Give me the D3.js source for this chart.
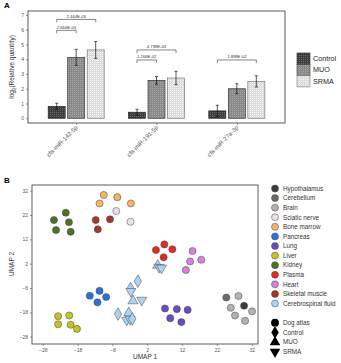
<!DOCTYPE html>
<html>
<head>
<meta charset="utf-8">
<script src="https://cdn.jsdelivr.net/npm/d3@7"></script>
<style>
  body { margin: 0; background: #fff; }
  svg { font-family: "Liberation Sans", Arial, sans-serif; }
</style>
</head>
<body>
<div id="chart"></div>
<script>
// ---- panel A data ----
const mirnas = ["cfa-miR-142-5p", "cfa-miR-191-5p", "cfa-miR-27a-3p"];
const groups = ["Control", "MUO", "SRMA"];
const meanControl = [0.80, 0.41, 0.50];
const meanMUO     = [4.13, 2.57, 2.00];
const meanSRMA    = [4.63, 2.73, 2.50];
const errControl  = [0.22, 0.20, 0.38];
const errMUO      = [0.54, 0.26, 0.34];
const errSRMA     = [0.57, 0.45, 0.38];
const yTicksA = [0, 1, 2, 3, 4, 5, 6, 7];
// bracket: mirna index, compared group, height, p-value
const sigMirna = [0, 0, 1, 1, 2];
const sigGroup = ["SRMA", "MUO", "SRMA", "MUO", "SRMA"];
const sigY     = [6.70, 5.96, 4.63, 3.95, 3.95];
const sigText  = ["2.444E-03", "2.666E-03", "4.798E-03", "1.266E-02", "1.898E-02"];

// ---- panel B data ----
const tissues = ["Hypothalamus", "Cerebellum", "Brain", "Sciatic nerve", "Bone marrow",
  "Pancreas", "Lung", "Liver", "Kidney", "Plasma", "Heart", "Skeletal muscle", "Cerebrospinal fluid"];
const tissueColors = ["#3b3b3b", "#6a6a6a", "#b3b3b3", "#ebe0ea", "#f2b566",
  "#2b72d6", "#6b4ac6", "#c3c324", "#4e7126", "#e12a20", "#d682d6", "#a6362b", "#aad4ef"];
const sources = ["Dog atlas", "Control", "MUO", "SRMA"];
const umapTicks = [-28, -18, -8, 2, 12, 22, 32];
// [tissue, source, UMAP1, UMAP2]
const umapPoints = [
  ["Kidney", "Dog atlas", -24.8, 19.9], ["Kidney", "Dog atlas", -21.4, 22.9], ["Kidney", "Dog atlas", -20.5, 19.0],
  ["Kidney", "Dog atlas", -24.2, 15.8], ["Kidney", "Dog atlas", -20.0, 15.1],
  ["Skeletal muscle", "Dog atlas", -12.8, 19.9], ["Skeletal muscle", "Dog atlas", -8.7, 20.2], ["Skeletal muscle", "Dog atlas", -12.2, 16.1],
  ["Bone marrow", "Dog atlas", -10.5, 30.2], ["Bone marrow", "Dog atlas", -6.6, 29.3], ["Bone marrow", "Dog atlas", -11.7, 26.7],
  ["Bone marrow", "Dog atlas", -2.7, 26.7],
  ["Sciatic nerve", "Dog atlas", -6.9, 23.6], ["Sciatic nerve", "Dog atlas", -2.8, 19.2],
  ["Plasma", "Dog atlas", 6.9, 9.9], ["Plasma", "Dog atlas", 4.5, 7.6], ["Plasma", "Dog atlas", 9.2, 7.9], ["Plasma", "Dog atlas", 6.7, 4.6],
  ["Heart", "Dog atlas", 15.0, 7.2], ["Heart", "Dog atlas", 17.5, 3.6], ["Heart", "Dog atlas", 14.3, 2.9], ["Heart", "Dog atlas", 13.1, -0.6],
  ["Pancreas", "Dog atlas", -11.7, -9.2], ["Pancreas", "Dog atlas", -14.5, -11.2], ["Pancreas", "Dog atlas", -9.8, -11.7], ["Pancreas", "Dog atlas", -12.3, -13.9],
  ["Lung", "Dog atlas", 7.1, -16.4], ["Lung", "Dog atlas", 10.5, -16.7], ["Lung", "Dog atlas", 13.6, -17.0],
  ["Lung", "Dog atlas", 8.6, -20.4], ["Lung", "Dog atlas", 11.8, -22.0],
  ["Liver", "Dog atlas", -23.6, -19.6], ["Liver", "Dog atlas", -20.4, -19.3], ["Liver", "Dog atlas", -23.6, -22.9],
  ["Liver", "Dog atlas", -20.0, -23.1], ["Liver", "Dog atlas", -18.2, -24.8],
  ["Cerebellum", "Dog atlas", 24.7, -11.9], ["Brain", "Dog atlas", 28.2, -11.3], ["Brain", "Dog atlas", 26.0, -16.1],
  ["Hypothalamus", "Dog atlas", 29.8, -15.3], ["Brain", "Dog atlas", 27.2, -19.3], ["Brain", "Dog atlas", 30.1, -21.5],
  ["Brain", "Dog atlas", 32.1, -17.6],
  ["Cerebrospinal fluid", "MUO", 5.0, 1.3], ["Cerebrospinal fluid", "SRMA", 5.4, 0.5], ["Cerebrospinal fluid", "SRMA", 6.1, 0.2],
  ["Cerebrospinal fluid", "Control", -0.7, -5.2], ["Cerebrospinal fluid", "Control", -2.8, -8.2], ["Cerebrospinal fluid", "SRMA", -2.7, -9.4],
  ["Cerebrospinal fluid", "MUO", -2.1, -13.3], ["Cerebrospinal fluid", "SRMA", 0.4, -13.0],
  ["Cerebrospinal fluid", "Control", -6.4, -18.7], ["Cerebrospinal fluid", "MUO", -3.3, -18.2],
  ["Cerebrospinal fluid", "SRMA", -3.9, -21.2], ["Cerebrospinal fluid", "SRMA", -2.9, -20.9], ["Cerebrospinal fluid", "Control", -2.3, -20.7]
];

const W = 341, H = 363;
const svg = d3.select("#chart").append("svg").attr("width", W).attr("height", H);

// patterns for the textured bars
const defs = svg.append("defs");
function addPattern(id, bg, dot) {
  const p = defs.append("pattern").attr("id", id).attr("patternUnits", "userSpaceOnUse")
    .attr("width", 2).attr("height", 2);
  p.append("rect").attr("width", 2).attr("height", 2).attr("fill", bg);
  p.append("rect").attr("width", 1).attr("height", 1).attr("fill", dot);
}
addPattern("pat-control", "#3c3c3c", "#6a6a6a");
addPattern("pat-muo", "#888888", "#a8a8a8");
addPattern("pat-srma", "#dcdcdc", "#f6f6f6");
const groupFill = {Control: "url(#pat-control)", MUO: "url(#pat-muo)", SRMA: "url(#pat-srma)"};
const groupStroke = {Control: "#222", MUO: "#333", SRMA: "#777"};

//------------------------------------------------------------------------------
// Panel A
const xA = d3.scalePoint().domain(mirnas).range([28, 285]).padding(0.6);
const xG = d3.scaleBand().domain(groups).range([-28, 28]).paddingInner(0.13);
const yA = d3.scaleLinear().domain([-0.32, 7.27]).range([123, 11]);

const means = {Control: meanControl, MUO: meanMUO, SRMA: meanSRMA};
const errs = {Control: errControl, MUO: errMUO, SRMA: errSRMA};
const bars = [];
mirnas.forEach(function(m, i) {
  groups.forEach(function(g) {
    bars.push({m: m, g: g, v: means[g][i], e: errs[g][i]});
  });
});

svg.append("text").attr("x", 4).attr("y", 8).attr("font-size", 8).attr("font-weight", "bold").text("A");

const gA = svg.append("g");
gA.append("rect").attr("x", 28).attr("y", 11).attr("width", 257).attr("height", 112)
  .attr("fill", "#fff").attr("stroke", "#333").attr("stroke-width", 0.8);

gA.selectAll(".bar").data(bars).enter().append("rect")
  .attr("class", "bar")
  .attr("x", function(d) { return xA(d.m) + xG(d.g); })
  .attr("y", function(d) { return yA(d.v); })
  .attr("width", xG.bandwidth())
  .attr("height", function(d) { return yA(0) - yA(d.v); })
  .attr("fill", function(d) { return groupFill[d.g]; })
  .attr("stroke", function(d) { return groupStroke[d.g]; })
  .attr("stroke-width", 0.7);

const eb = gA.append("g").attr("stroke", "#111").attr("stroke-width", 0.7);
bars.forEach(function(d) {
  const cx = xA(d.m) + xG(d.g) + xG.bandwidth() / 2;
  eb.append("line").attr("x1", cx).attr("x2", cx).attr("y1", yA(d.v - d.e)).attr("y2", yA(d.v + d.e));
  [d.v - d.e, d.v + d.e].forEach(function(v) {
    eb.append("line").attr("x1", cx - 1.5).attr("x2", cx + 1.5).attr("y1", yA(v)).attr("y2", yA(v));
  });
});

// significance brackets
const sg = gA.append("g");
sigText.forEach(function(t, i) {
  const m = mirnas[sigMirna[i]];
  const x1 = xA(m) + xG("Control") + xG.bandwidth() / 2;
  const x2 = xA(m) + xG(sigGroup[i]) + xG.bandwidth() / 2;
  const y = yA(sigY[i]);
  sg.append("path").attr("d", "M" + x1 + "," + (y + 3) + "V" + y + "H" + x2 + "V" + (y + 3))
    .attr("fill", "none").attr("stroke", "#333").attr("stroke-width", 0.6);
  sg.append("text").attr("x", (x1 + x2) / 2).attr("y", y - 1.5).attr("text-anchor", "middle")
    .attr("font-size", 4.2).attr("fill", "#333").text(t);
});

// axes
const axAy = gA.append("g").attr("transform", "translate(28,0)")
  .call(d3.axisLeft(yA).tickValues(yTicksA).tickSize(2).tickPadding(2));
const axAx = gA.append("g").attr("transform", "translate(0,123)")
  .call(d3.axisBottom(xA).tickSize(2).tickFormat(""));
[axAy, axAx].forEach(function(a) {
  a.select(".domain").remove();
  a.selectAll("line").attr("stroke", "#555").attr("stroke-width", 0.6);
  a.selectAll("text").attr("font-size", 5).attr("fill", "#555").attr("font-family", null);
});
gA.selectAll(".xlab").data(mirnas).enter().append("text")
  .attr("transform", function(d) { return "translate(" + (xA(d) + 2) + ",128) rotate(-45)"; })
  .attr("text-anchor", "end").attr("font-size", 6).attr("fill", "#555").text(function(d) { return d; });

svg.append("text").attr("transform", "translate(14,67) rotate(-90)").attr("text-anchor", "middle")
  .attr("font-size", 6.5).attr("fill", "#333")
  .html('log<tspan font-size="4.5" dy="1.5">2</tspan><tspan dy="-1.5">(Relative quantity)</tspan>');

// legend A
const legA = svg.append("g").attr("transform", "translate(297,53)");
groups.forEach(function(g, i) {
  legA.append("rect").attr("x", 0).attr("y", i * 11.3).attr("width", 13).attr("height", 11.3)
    .attr("fill", groupFill[g]).attr("stroke", groupStroke[g]).attr("stroke-width", 0.6);
  legA.append("text").attr("x", 16).attr("y", i * 11.3 + 8).attr("font-size", 7.2).attr("fill", "#222").text(g);
});

//------------------------------------------------------------------------------
// Panel B
const xB = d3.scaleLinear().domain([-31.1, 33.8]).range([32, 258]);
const yB = d3.scaleLinear().domain([-31, 34.3]).range([344, 185]);
const colorB = d3.scaleOrdinal().domain(tissues).range(tissueColors);
const shapeB = d3.scaleOrdinal().domain(sources)
  .range([d3.symbolCircle, d3.symbolDiamond, d3.symbolTriangle, d3.symbolTriangle]);
const sizeB = {"Dog atlas": 40, "Control": 46, "MUO": 44, "SRMA": 44};

svg.append("text").attr("x", 4).attr("y", 183).attr("font-size", 8).attr("font-weight", "bold").text("B");

const gB = svg.append("g");
gB.append("rect").attr("x", 32).attr("y", 185).attr("width", 226).attr("height", 159)
  .attr("fill", "#fff").attr("stroke", "#333").attr("stroke-width", 0.8);

gB.selectAll(".pt").data(umapPoints).enter().append("path")
  .attr("class", "pt")
  .attr("d", function(d) { return d3.symbol().type(shapeB(d[1])).size(sizeB[d[1]])(); })
  .attr("transform", function(d) {
    return "translate(" + xB(d[2]) + "," + yB(d[3]) + ")" + (d[1] === "SRMA" ? " rotate(180)" : "");
  })
  .attr("fill", function(d) { return colorB(d[0]); })
  .attr("stroke", "#444").attr("stroke-width", 0.5);

const axBx = gB.append("g").attr("transform", "translate(0,344)")
  .call(d3.axisBottom(xB).tickValues(umapTicks).tickSize(2).tickPadding(2));
const axBy = gB.append("g").attr("transform", "translate(32,0)")
  .call(d3.axisLeft(yB).tickValues(umapTicks).tickSize(2).tickPadding(2));
[axBx, axBy].forEach(function(a) {
  a.select(".domain").remove();
  a.selectAll("line").attr("stroke", "#555").attr("stroke-width", 0.6);
  a.selectAll("text").attr("font-size", 5).attr("fill", "#555").attr("font-family", null);
});
svg.append("text").attr("x", 145).attr("y", 359).attr("text-anchor", "middle")
  .attr("font-size", 6.5).attr("fill", "#333").text("UMAP 1");
svg.append("text").attr("transform", "translate(14,264) rotate(-90)").attr("text-anchor", "middle")
  .attr("font-size", 6.5).attr("fill", "#333").text("UMAP 2");

// legend B
const legB = svg.append("g").attr("transform", "translate(275,188.5)");
tissues.forEach(function(t, i) {
  legB.append("circle").attr("cx", 0).attr("cy", i * 9.58).attr("r", 3.5)
    .attr("fill", colorB(t)).attr("stroke", "#444").attr("stroke-width", 0.5);
  legB.append("text").attr("x", 8).attr("y", i * 9.58 + 2.3).attr("font-size", 6.3).attr("fill", "#333").text(t);
});
const legS = svg.append("g").attr("transform", "translate(275,322.7)");
sources.forEach(function(s, i) {
  legS.append("path").attr("d", d3.symbol().type(shapeB(s)).size(48)())
    .attr("transform", "translate(0," + (i * 9.7) + ")" + (s === "SRMA" ? " rotate(180)" : ""))
    .attr("fill", "#000");
  legS.append("text").attr("x", 8).attr("y", i * 9.7 + 2.3).attr("font-size", 6.3).attr("fill", "#333").text(s);
});
</script>
</body>
</html>
